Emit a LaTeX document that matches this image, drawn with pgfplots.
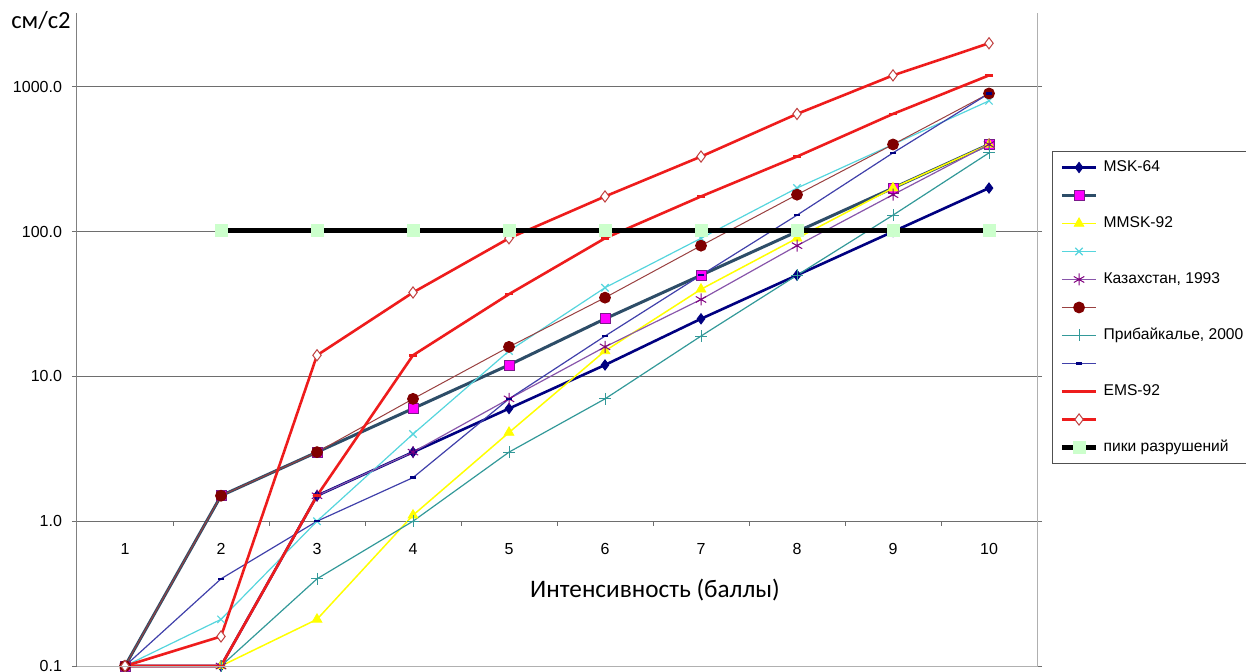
\documentclass[border=0pt]{standalone}
\usepackage{pgfplots}
\pgfplotsset{compat=1.18}
\usepackage{fontspec}
\setmainfont{Liberation Sans}
\newfontfamily\calibri{Carlito}
\definecolor{msk}{HTML}{000080}
\definecolor{stwo}{HTML}{2D4D68}
\definecolor{sqfill}{HTML}{FF00FF}
\definecolor{sqdraw}{HTML}{7A1A8A}
\definecolor{mmsk}{HTML}{FFFF00}
\definecolor{cyanx}{HTML}{55D5DD}
\definecolor{kazl}{HTML}{8855AA}
\definecolor{kazm}{HTML}{800080}
\definecolor{maroonl}{HTML}{994040}
\definecolor{maroonm}{HTML}{800000}
\definecolor{tealc}{HTML}{339999}
\definecolor{slate}{HTML}{4040AA}
\definecolor{emsred}{HTML}{EE1C1C}
\definecolor{diaedge}{HTML}{C04040}
\definecolor{peakfill}{HTML}{CCFFCC}
\definecolor{gridc}{HTML}{6E6E6E}
\definecolor{axc}{HTML}{808080}
\definecolor{borderc}{HTML}{B0B0B0}
\definecolor{legc}{HTML}{505050}
\begin{document}
\begin{tikzpicture}
\path[use as bounding box] (-38.5pt,-2.5pt) rectangle (584.5pt,333pt);
\begin{axis}[
  scale only axis, width=480pt, height=326.5pt,
  xmin=0.5, xmax=10.5, ymin=0.1, ymax=3236,
  ymode=log,
  clip=false,
  axis line style={draw=none},
  xtick={1,2,3,4,5,6,7,8,9,10},
  xticklabels={1,2,3,4,5,6,7,8,9,10},
  x tick style={draw=none},
  xticklabel style={anchor=center, yshift=61pt, font=\fontsize{8}{9}\selectfont},
  ytick={1,10,100,1000},
  yticklabels={1.0,10.0,100.0,1000.0},
  extra y ticks={0.1}, extra y tick labels={0.1},
  extra y tick style={grid=none},
  yminorticks=false,
  ymajorgrids,
  grid style={draw=gridc, line width=0.5pt},
  tick align=outside, major tick length=2.5pt,
  y tick style={draw=gridc, line width=0.5pt},
  yticklabel style={font=\fontsize{8}{9}\selectfont, xshift=-1.5pt},
  legend cell align=left,
  legend style={at={(1.0156,0.7887)}, anchor=north west, draw=legc, line width=0.5pt,
    font=\fontsize{7.8}{9}\selectfont, inner xsep=3.5pt, inner ysep=1pt, row sep=0pt,
    nodes={inner sep=2.5pt, text height=6.5pt, text depth=2.5pt}},
]
\pgfplotsinvokeforeach{1.5,2.5,3.5,4.5,5.5,6.5,7.5,8.5,9.5}{
  \draw[gridc, line width=0.5pt] (axis cs:#1,1) -- ++(0pt,-2.2pt);
}
\addplot[color=msk, line width=1.3pt, mark=diamond*, mark size=2.6pt, mark options={fill=msk, line width=0.4pt}]
  coordinates {(1,0.1)(2,0.1)(3,1.5)(4,3)(5,6)(6,12)(7,25)(8,50)(9,100)(10,200)};
\addlegendentry{MSK-64}
\addplot[color=stwo, line width=1.5pt, mark=square*, mark size=2.5pt, mark options={fill=sqfill, draw=sqdraw, line width=0.4pt}]
  coordinates {(1,0.1)(2,1.5)(3,3)(4,6)(5,12)(6,25)(7,50)(8,100)(9,200)(10,400)};
\addlegendentry{\mbox{}}
\addplot[color=mmsk, line width=0.75pt, mark=triangle*, mark size=2.8pt, mark options={fill=mmsk, line width=0.4pt}]
  coordinates {(1,0.1)(2,0.1)(3,0.21)(4,1.1)(5,4.1)(6,15)(7,40)(8,90)(9,200)(10,400)};
\addlegendentry{MMSK-92}
\addplot[color=cyanx, line width=0.6pt, mark=x, mark size=2.6pt, mark options={line width=0.6pt}]
  coordinates {(1,0.1)(2,0.21)(3,1.0)(4,4)(5,15)(6,41)(7,90)(8,200)(9,400)(10,800)};
\addlegendentry{\mbox{}}
\addplot[color=kazl, line width=0.6pt, mark=asterisk, mark size=3pt, mark options={draw=kazm, line width=0.5pt}]
  coordinates {(1,0.1)(2,0.1)(3,1.5)(4,3)(5,7)(6,16)(7,34)(8,80)(9,180)(10,400)};
\addlegendentry{Казахстан, 1993}
\addplot[color=maroonl, line width=0.5pt, mark=*, mark size=2.7pt, mark options={fill=maroonm, draw=maroonm}]
  coordinates {(1,0.1)(2,1.5)(3,3)(4,7)(5,16)(6,35)(7,80)(8,180)(9,400)(10,900)};
\addlegendentry{\mbox{}}
\addplot[color=tealc, line width=0.6pt, mark=+, mark size=3pt, mark options={line width=0.5pt}]
  coordinates {(1,0.1)(2,0.1)(3,0.4)(4,1.0)(5,3)(6,7)(7,19)(8,50)(9,130)(10,350)};
\addlegendentry{Прибайкалье, 2000}
\addplot[color=slate, line width=0.6pt, mark=-, mark size=1.6pt, mark options={draw=msk, line width=1.2pt}]
  coordinates {(1,0.1)(2,0.4)(3,1.0)(4,2)(5,7)(6,19)(7,50)(8,130)(9,350)(10,900)};
\addlegendentry{\mbox{}}
\addplot[color=emsred, line width=1.3pt, mark=-, mark size=2pt, mark options={line width=1.3pt}]
  coordinates {(1,0.1)(2,0.1)(3,1.5)(4,14)(5,37)(6,90)(7,175)(8,330)(9,650)(10,1200)};
\addlegendentry{EMS-92}
\addplot[color=emsred, line width=1.3pt, mark=diamond*, mark size=2.8pt, mark options={fill=white, draw=diaedge, line width=0.5pt}]
  coordinates {(1,0.1)(2,0.16)(3,14)(4,38)(5,90)(6,175)(7,330)(8,650)(9,1200)(10,2000)};
\addlegendentry{\mbox{}}
\addplot[color=black, line width=2.5pt, mark=square*, mark size=3pt, mark options={fill=peakfill, draw=peakfill, line width=0.3pt}]
  coordinates {(2,102)(3,102)(4,102)(5,102)(6,102)(7,102)(8,102)(9,102)(10,102)};
\addlegendentry{пики разрушений}
\end{axis}
\draw[axc, line width=0.5pt] (0pt,326.5pt) -- (0pt,0pt);
\draw[borderc, line width=0.5pt] (0pt,0pt) -- (480pt,0pt) -- (480pt,326.5pt);
\node[font=\calibri\fontsize{12.3}{14}\selectfont] at (-18pt,323pt) {см/с2};
\node[font=\calibri\fontsize{12.6}{14}\selectfont] at (289pt,38pt) {Интенсивность (баллы)};
\end{tikzpicture}
\end{document}
